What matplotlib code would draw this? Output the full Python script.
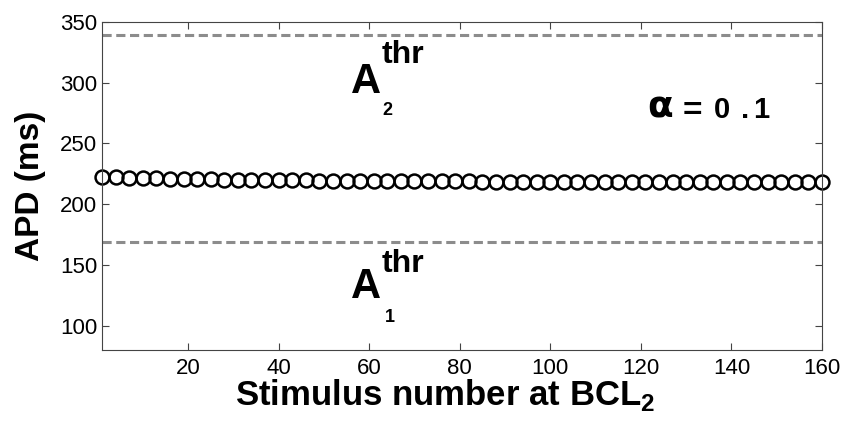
import matplotlib
matplotlib.use("Agg")
import matplotlib.pyplot as plt

plt.rcParams['font.family'] = ['Liberation Sans', 'DejaVu Sans']
plt.rcParams['mathtext.fontset'] = 'custom'
plt.rcParams['mathtext.rm'] = 'Liberation Sans:bold'
plt.rcParams['mathtext.bf'] = 'Liberation Sans:bold'

# stimulus numbers (every third beat) and APD values (ms)
stimulus = list(range(1, 161, 3))
apd = [222.3, 222.0, 221.7, 221.4, 221.2, 221.0, 220.8, 220.6, 220.4, 220.3,
       220.1, 220.0, 219.9, 219.8, 219.7, 219.6, 219.5, 219.4, 219.3, 219.2,
       219.2, 219.1, 219.0, 219.0, 218.9, 218.9, 218.8, 218.8, 218.7, 218.7,
       218.7, 218.6, 218.6, 218.6, 218.5, 218.5, 218.5, 218.5, 218.4, 218.4,
       218.4, 218.4, 218.4, 218.4, 218.3, 218.3, 218.3, 218.3, 218.3, 218.3,
       218.3, 218.3, 218.3, 218.3]
a_thr_1 = 169
a_thr_2 = 339

fig = plt.figure(figsize=(8.48, 4.32), dpi=100)
ax = fig.add_axes([102 / 848, 1 - 350 / 432, 720 / 848, 328 / 432])

ax.axhline(a_thr_2, color='#8c8c8c', lw=2.2, ls=(0, (3, 1.5)))
ax.axhline(a_thr_1, color='#8c8c8c', lw=2.2, ls=(0, (3, 1.5)))
ax.plot(stimulus, apd, 'o', mfc='none', mec='black', ms=10, mew=1.8, clip_on=False)

ax.set_xlim(1, 160)
ax.set_ylim(80, 350)
ax.set_xticks(range(20, 161, 20))
ax.set_yticks(range(100, 351, 50))
ax.tick_params(direction='in', length=5, width=0.8, labelsize=16,
               top=True, right=True, colors='#444444', labelcolor='black')
ax.tick_params(axis='x', pad=6)
for s in ax.spines.values():
    s.set_color('#444444')
    s.set_linewidth(0.8)

ax.set_xlabel(r'Stimulus number at BCL$_\mathbf{2}$', fontsize=25, fontweight='bold')
ax.xaxis.set_label_coords(0.477, -0.083)
ax.set_ylabel('APD (ms)', fontsize=24, fontweight='bold')
ax.yaxis.set_label_coords(-0.078, 0.5)

def ftext(px, py, s, **kw):
    fig.text(px / 848, 1 - py / 432, s, **kw)

# A_2^thr
ftext(351, 93, 'A', fontsize=30, fontweight='bold', va='baseline')
ftext(382, 63, 'thr', fontsize=23, fontweight='bold', va='baseline')
ftext(382, 115, '2', fontsize=13, fontweight='bold', va='baseline')
# A_1^thr
ftext(351, 298, 'A', fontsize=30, fontweight='bold', va='baseline')
ftext(382, 272, 'thr', fontsize=23, fontweight='bold', va='baseline')
ftext(385, 322, '1', fontsize=13, fontweight='bold', va='baseline')
# alpha label
ftext(647, 118, 'α', fontsize=27, fontweight='bold', va='baseline', family=['DejaVu Sans'])
ftext(683, 120, '=', fontsize=24, fontweight='bold', va='baseline')
ftext(714, 118, '0', fontsize=21, fontweight='bold', va='baseline')
ftext(741, 118, '.', fontsize=21, fontweight='bold', va='baseline')
ftext(753, 118, '1', fontsize=21, fontweight='bold', va='baseline')

fig.savefig('out.png', dpi=100)
